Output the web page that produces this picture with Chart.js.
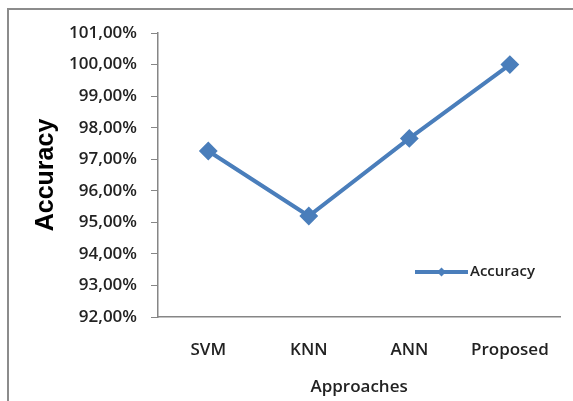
<!DOCTYPE html>
<html>
<head>
<meta charset="utf-8">
<script src="https://cdn.jsdelivr.net/npm/chart.js@4/dist/chart.umd.min.js"></script>
<style>
  html, body { margin: 0; padding: 0; background: #ffffff; }
  #wrap { position: relative; width: 573px; height: 401px; }
</style>
</head>
<body>
<div id="wrap"><canvas id="c" width="573" height="401"></canvas></div>
<script>
const categories = ['SVM', 'KNN', 'ANN', 'Proposed'];
const accuracy = [97.26, 95.2, 97.66, 100.0];
const seriesName = 'Accuracy';
const yMin = 92, yMax = 101, yStep = 1;
const xTitle = 'Approaches';
const yTitle = 'Accuracy';

const LINE = '#4A7EBB';
const AXIS = '#868686';
const TEXT = '#222222';
const FONT = "'Open Sans', 'Liberation Sans', sans-serif";

const frame = {
  id: 'frame',
  beforeDraw(chart) {
    const ctx = chart.ctx;
    ctx.save();
    ctx.strokeStyle = '#8c8c8c';
    ctx.lineWidth = 2;
    ctx.beginPath();
    ctx.moveTo(8, chart.height);
    ctx.lineTo(8, 9);
    ctx.lineTo(chart.width, 9);
    ctx.stroke();
    ctx.restore();
  }
};

const innerLegend = {
  id: 'innerLegend',
  afterDraw(chart) {
    const ctx = chart.ctx;
    const a = chart.chartArea;
    const ds = chart.data.datasets[0];
    const x0 = a.left + 257, x1 = x0 + 53, y = a.top + 239;
    ctx.save();
    ctx.strokeStyle = ds.borderColor;
    ctx.lineWidth = 4;
    ctx.beginPath();
    ctx.moveTo(x0, y);
    ctx.lineTo(x1, y);
    ctx.stroke();
    ctx.fillStyle = ds.borderColor;
    ctx.beginPath();
    const r = 4.5, cx = (x0 + x1) / 2;
    ctx.moveTo(cx, y - r); ctx.lineTo(cx + r, y); ctx.lineTo(cx, y + r); ctx.lineTo(cx - r, y); ctx.closePath();
    ctx.fill();
    ctx.fillStyle = TEXT;
    ctx.font = "600 15px " + FONT;
    ctx.textBaseline = 'middle';
    ctx.textAlign = 'left';
    ctx.fillText(ds.label, x1 + 2, y);
    ctx.restore();
  }
};

new Chart(document.getElementById('c'), {
  type: 'line',
  data: {
    labels: categories,
    datasets: [{
      label: seriesName,
      data: accuracy,
      borderColor: LINE,
      backgroundColor: LINE,
      borderWidth: 4,
      tension: 0,
      pointStyle: 'rectRot',
      pointRadius: 8,
      pointBorderWidth: 2,
      pointBackgroundColor: LINE,
      pointBorderColor: LINE
    }]
  },
  options: {
    responsive: false,
    animation: false,
    devicePixelRatio: 1,
    layout: { padding: { top: 33, right: 5, left: 0, bottom: 0 } },
    plugins: { legend: { display: false }, tooltip: { enabled: false } },
    scales: {
      x: {
        type: 'category',
        offset: true,
        grid: { display: false, drawTicks: false, drawOnChartArea: false },
        border: { display: true, color: AXIS, width: 1.5 },
        ticks: { color: TEXT, padding: 23, font: { family: FONT, size: 17, weight: '600' } },
        title: { display: true, text: xTitle, color: TEXT, padding: { top: 0, bottom: 4 }, font: { family: FONT, size: 17, weight: '600' } },
        afterFit(scale) { scale.height = 84; }
      },
      y: {
        min: yMin,
        max: yMax,
        grid: { display: true, drawOnChartArea: false, drawTicks: true, tickLength: 7, color: AXIS, lineWidth: 1 },
        border: { display: true, color: AXIS, width: 1.5 },
        ticks: {
          stepSize: yStep,
          color: TEXT,
          padding: 14,
          font: { family: FONT, size: 17, weight: '600' },
          callback: v => v.toFixed(2).replace('.', ',') + '%'
        },
        title: { display: true, text: yTitle, color: '#000', padding: { top: 31, bottom: 0 }, font: { family: "'Liberation Sans', Arial, sans-serif", size: 25, weight: 'bold' } },
        afterFit(scale) { scale.width = 158; }
      }
    }
  },
  plugins: [frame, innerLegend]
});
</script>
</body>
</html>
